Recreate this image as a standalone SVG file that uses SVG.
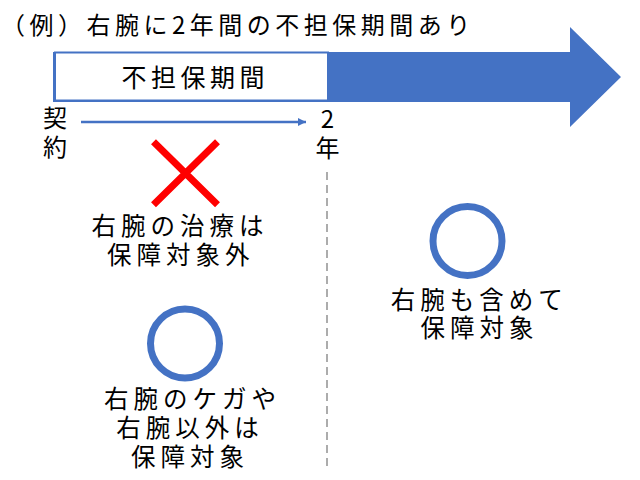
<svg xmlns="http://www.w3.org/2000/svg" width="640" height="480" viewBox="0 0 640 480">
<defs>
<style>
text{font-family:"Noto Sans CJK JP","Noto Sans CJK SC",sans-serif;fill:#000;}
.t{font-size:24px;letter-spacing:4.5px;}
.m{font-size:25px;letter-spacing:4.5px;text-anchor:middle;}
.c{font-size:24px;text-anchor:middle;}
.b{font-size:24.5px;letter-spacing:5px;text-anchor:middle;}
.ok{fill:none;stroke:#4472C4;stroke-width:7;}
</style>
<marker id="ah" viewBox="0 0 10 10" refX="10" refY="5" markerWidth="8" markerHeight="10" markerUnits="userSpaceOnUse" orient="auto">
<path d="M0,0 L10,5 L0,10 Z" fill="#4472C4"/>
</marker>
</defs>
<rect width="640" height="480" fill="#fff"/>
<g id="title"><text class="t" x="1" y="33.5">（例）右腕に2年間の不担保期間あり</text></g>
<g id="timeline">
<polygon points="53,52 570,52 570,27 621,77 570,127 570,102 53,102" fill="#4472C4"/>
<rect x="55" y="52.5" width="273" height="48" fill="#fff" stroke="#4472C4" stroke-width="2"/>
<text class="m" x="195.3" y="86.5">不担保期間</text>
</g>
<g id="start"><text class="c"><tspan x="55" y="127.3">契</tspan><tspan x="55" y="156.3">約</tspan></text></g>
<g id="two-years"><text class="c"><tspan x="327.5" y="128">2</tspan><tspan x="327.5" y="156.6">年</tspan></text></g>
<g id="connectors">
<line x1="81" y1="122" x2="306" y2="122" stroke="#4472C4" stroke-width="2.5" marker-end="url(#ah)"/>
<line x1="327" y1="172" x2="327" y2="470" stroke="#808080" stroke-width="1.3" stroke-dasharray="8,5"/>
</g>
<g id="cross">
<path d="M153.5,141.8 L217.5,204.8 M217.5,141.8 L153.5,204.8" stroke="#FF0000" stroke-width="7" fill="none"/>
<text class="b"><tspan x="180" y="235.3">右腕の治療は</tspan><tspan x="180.8" y="264.3">保障対象外</tspan></text>
</g>
<g id="circle-left">
<circle class="ok" cx="185" cy="343.5" r="34.5"/>
<text class="b"><tspan x="192.5" y="407.8">右腕のケガや</tspan><tspan x="190" y="436.5">右腕以外は</tspan><tspan x="190" y="465.5">保障対象</tspan></text>
</g>
<g id="circle-right">
<circle class="ok" cx="467.5" cy="241" r="34.5"/>
<text class="b"><tspan x="479.2" y="308.5">右腕も含めて</tspan><tspan x="479.5" y="336.8">保障対象</tspan></text>
</g>
</svg>
